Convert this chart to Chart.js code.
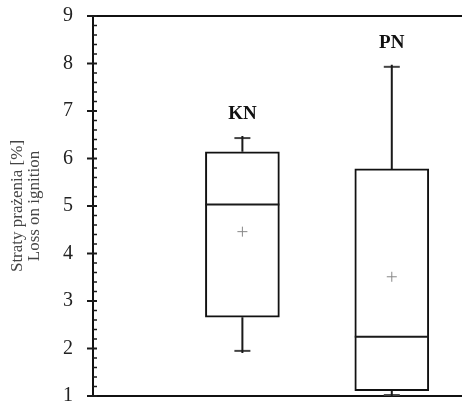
<!DOCTYPE html>
<html lang="pl">
<head>
  <meta charset="UTF-8">
  <title>Straty prażenia - KN / PN</title>
  <script src="https://cdn.jsdelivr.net/npm/chart.js"></script>
  <style>
    body { margin: 0; background: #fff; }
    #wrap { width: 462px; height: 402px; }
  </style>
</head>
<body>
<div id="wrap"><canvas id="wykres" width="462" height="402"></canvas></div>

<script>
  // dane
  const grupy = ['KN', 'PN'];
  const pozycje = [1, 2];
  const minimum = [1.95, 1.02];
  const kwartylDolny = [2.66, 1.11];
  const mediana = [5.03, 2.25];
  const srednia = [4.46, 3.51];
  const kwartylGorny = [6.14, 5.78];
  const maksimum = [6.43, 7.93];
  const osY = { min: 1, max: 9, krok: 0.2 };

  const czcionka = '"Liberation Serif", "Times New Roman", serif';

  // wasy, mediana, podzialka i opisy grup
  const dodatki = {
    id: 'dodatki',
    afterDatasetsDraw(chart) {
      const ctx = chart.ctx;
      const x = chart.scales.x;
      const y = chart.scales.y;
      const polSzer = 37;
      ctx.save();
      ctx.strokeStyle = '#1a1a1a';
      ctx.lineWidth = 2;
      pozycje.forEach((p, i) => {
        const px = x.getPixelForValue(p);
        ctx.beginPath();
        ctx.moveTo(px, y.getPixelForValue(kwartylGorny[i]));
        ctx.lineTo(px, y.getPixelForValue(maksimum[i]) - 2);
        ctx.moveTo(px, y.getPixelForValue(kwartylDolny[i]));
        ctx.lineTo(px, y.getPixelForValue(minimum[i]) + 2);
        ctx.moveTo(px - polSzer, y.getPixelForValue(mediana[i]));
        ctx.lineTo(px + polSzer, y.getPixelForValue(mediana[i]));
        ctx.stroke();

        ctx.fillStyle = '#111';
        ctx.font = 'bold 19px ' + czcionka;
        ctx.textAlign = 'center';
        ctx.textBaseline = 'middle';
        ctx.fillText(grupy[i], px, y.getPixelForValue(maksimum[i]) - 24);
      });

      // podzialka osi Y
      const lewo = chart.chartArea.left;
      y.ticks.forEach(t => {
        const py = y.getPixelForValue(t.value);
        const glowna = Math.abs(t.value - Math.round(t.value)) < 1e-6;
        ctx.beginPath();
        ctx.lineWidth = glowna ? 2 : 1.5;
        ctx.moveTo(glowna ? lewo - 6 : lewo, py);
        ctx.lineTo(lewo + 4, py);
        ctx.stroke();
      });
      ctx.restore();
    }
  };

  new Chart(document.getElementById('wykres'), {
    data: {
      datasets: [
        {
          type: 'bar',
          data: pozycje.map((p, i) => ({ x: p, y: [kwartylDolny[i], kwartylGorny[i]] })),
          backgroundColor: '#ffffff',
          borderColor: '#111111',
          borderWidth: 2,
          borderSkipped: false,
          barThickness: 74,
          order: 2
        },
        {
          type: 'scatter',
          data: pozycje.map((p, i) => ({ x: p, y: srednia[i] })),
          pointStyle: 'cross',
          radius: 5,
          borderColor: '#888888',
          borderWidth: 1,
          order: 1
        },
        {
          type: 'scatter',
          data: pozycje.map((p, i) => ({ x: p, y: maksimum[i] }))
            .concat(pozycje.map((p, i) => ({ x: p, y: minimum[i] }))),
          pointStyle: 'line',
          radius: 8,
          borderColor: '#444444',
          borderWidth: 2,
          order: 1
        }
      ]
    },
    options: {
      responsive: false,
      animation: false,
      layout: { padding: 0, autoPadding: false },
      plugins: { legend: { display: false }, tooltip: { enabled: false } },
      scales: {
        x: {
          type: 'linear',
          position: 'bottom',
          min: 0,
          max: 2.47,
          offset: false,
          grid: { display: false, offset: false, drawTicks: false },
          ticks: { display: false },
          border: { display: true, color: '#111', width: 2 },
          afterFit(s) { s.height = 6; }
        },
        x2: {
          type: 'linear',
          position: 'top',
          min: 0,
          max: 2.47,
          grid: { display: false, drawTicks: false },
          ticks: { display: false },
          border: { display: true, color: '#111', width: 2 },
          afterFit(s) { s.height = 16; }
        },
        y: {
          type: 'linear',
          min: osY.min,
          max: osY.max,
          beginAtZero: false,
          grid: { display: false, drawTicks: false },
          border: { display: true, color: '#111', width: 2 },
          ticks: {
            stepSize: osY.krok,
            autoSkip: false,
            padding: 20,
            color: '#222',
            font: { family: czcionka, size: 20 },
            callback: v => Math.abs(v - Math.round(v)) < 1e-6 ? String(Math.round(v)) : ''
          },
          title: {
            display: true,
            text: ['Straty prażenia [%]', 'Loss on ignition'],
            color: '#444',
            font: { family: czcionka, size: 17, lineHeight: 1 },
            padding: { top: 9, bottom: 0 }
          },
          afterFit(s) {
            s.width = 93;
            s.paddingTop = 0;
            s.paddingBottom = 0;
          }
        }
      }
    },
    plugins: [dodatki]
  });
</script>
</body>
</html>
